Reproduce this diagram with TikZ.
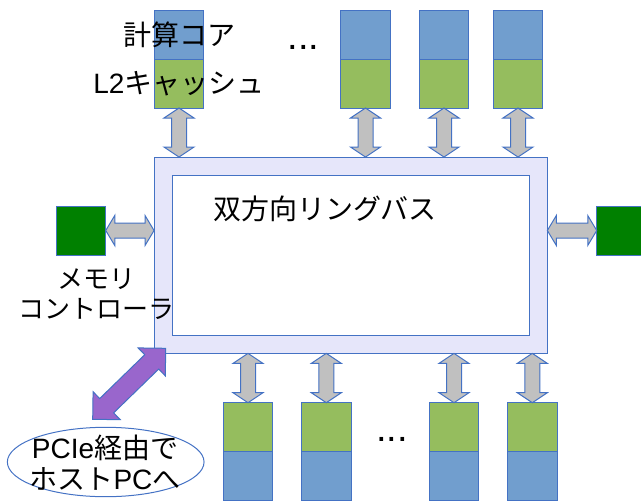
\documentclass[tikz,border=0pt]{standalone}
\usepackage{fontspec}
\setmainfont{Noto Sans CJK JP}
\newfontfamily\latinf{Liberation Sans}
\usetikzlibrary{calc,shapes.geometric}
\definecolor{coreblue}{HTML}{719ECE}
\definecolor{cachegreen}{HTML}{95BD5E}
\definecolor{edgeblue}{HTML}{4472C4}
\definecolor{ringfill}{HTML}{E6E6FA}
\definecolor{linkgray}{HTML}{C0C0C0}
\definecolor{memgreen}{HTML}{008000}
\definecolor{pcipurple}{HTML}{9966CC}
\newcommand\DArrowX[6]{%
  \path[#1] (#2)
    -- ($(#2)!#6!(#3)!#5!90:(#3)$)
    -- ($(#2)!#6!(#3)!#4!90:(#3)$)
    -- ($(#3)!#6!(#2)!#4!-90:(#2)$)
    -- ($(#3)!#6!(#2)!#5!-90:(#2)$)
    -- (#3)
    -- ($(#3)!#6!(#2)!#5!90:(#2)$)
    -- ($(#3)!#6!(#2)!#4!90:(#2)$)
    -- ($(#2)!#6!(#3)!#4!-90:(#3)$)
    -- ($(#2)!#6!(#3)!#5!-90:(#3)$)
    -- cycle;}
\begin{document}
\begin{tikzpicture}[x=1pt,y=-1pt,
  blk/.style={draw=edgeblue, line width=1pt, minimum width=49.5pt, minimum height=49pt, inner sep=0pt, outer sep=0pt},
  core/.style={blk, fill=coreblue},
  cache/.style={blk, fill=cachegreen},
  mem/.style={draw=edgeblue, line width=1pt, fill=memgreen, minimum width=49.5pt, minimum height=49pt, inner sep=0pt, outer sep=0pt},
  link/.style={draw=edgeblue, fill=linkgray, line width=1pt, line join=miter},
  pcilink/.style={draw=edgeblue, fill=pcipurple, line width=1pt, line join=miter},
  lbl/.style={font=\fontsize{28}{34}\selectfont, inner sep=0pt},
  slbl/.style={font=\fontsize{26}{30}\selectfont, inner sep=0pt, align=center},
  hlbl/.style={font=\fontsize{28}{31}\selectfont, inner sep=0pt, align=center},
  dots/.style={font=\latinf\fontsize{38}{42}\selectfont, inner sep=0pt}]
\useasboundingbox (0,0) rectangle (641,504);
\clip (0,0) rectangle (641,504);
% ring bus
\node[draw=edgeblue, line width=1pt, fill=ringfill, minimum width=393.3pt, minimum height=196.3pt, inner sep=0pt, outer sep=0pt] (ring) at (350.7,255.2) {};
\node[draw=edgeblue, line width=1pt, fill=white, minimum width=356.6pt, minimum height=160pt, inner sep=0pt, outer sep=0pt] (inner) at (351,255) {};
\node[lbl] (ringtxt) at (325,209) {双方向リングバス};
% top blocks
\foreach \n/\x in {1/179,2/365.5,3/444,4/518} {
  \node[core] (tc\n) at (\x,34.5) {};
  \node[cache] (tl\n) at (\x,83.5) {};
}
% bottom blocks
\foreach \n/\x in {1/248,2/326.3,3/454,4/532.3} {
  \node[cache] (bl\n) at (\x,427.2) {};
  \node[core] (bc\n) at (\x,476.3) {};
}
% memory controllers
\node[mem] (meml) at (81,230.5) {};
\node[mem] (memr) at (621.5,230.5) {};
% links
\foreach \n in {1,2,3,4} {
  \coordinate (ta\n) at (tl\n.south |- ring.north);
  \DArrowX{link}{tl\n.south}{ta\n}{7.5pt}{15pt}{10pt}
  \coordinate (ba\n) at (ring.south -| bl\n.north);
  \DArrowX{link}{ba\n}{bl\n.north}{7.5pt}{15pt}{10pt}
}
\coordinate (mla) at (meml.east -| ring.west);
\DArrowX{link}{meml.east}{mla}{7.5pt}{15pt}{9pt}
\coordinate (mra) at (ring.east |- memr.west);
\DArrowX{link}{mra}{memr.west}{7.5pt}{15pt}{9pt}
% PCIe
\coordinate (pciA) at (165.7,348.3);
\coordinate (pciB) at (92.7,419.3);
\DArrowX{pcilink}{pciA}{pciB}{10pt}{19.5pt}{19.5pt}
\node[draw=edgeblue, line width=1pt, ellipse, minimum width=196.7pt, minimum height=69.4pt, inner sep=0pt] (host) at (105.7,462) {};
\node[hlbl] (hosttxt) at (105,463) {{\latinf PCIe}経由で\\ホスト{\latinf PC}へ};
% labels
\node[lbl] (corelbl) at (179,35) {計算コア};
\node[lbl] (l2lbl) at (179,84) {{\latinf L2}キャッシュ};
\node[slbl] (memlbl) at (97,294) {メモリ\\コントローラ};
\node[dots] (topdots) at (303.5,47) {...};
\node[dots] (botdots) at (392,439) {...};
\end{tikzpicture}
\end{document}
